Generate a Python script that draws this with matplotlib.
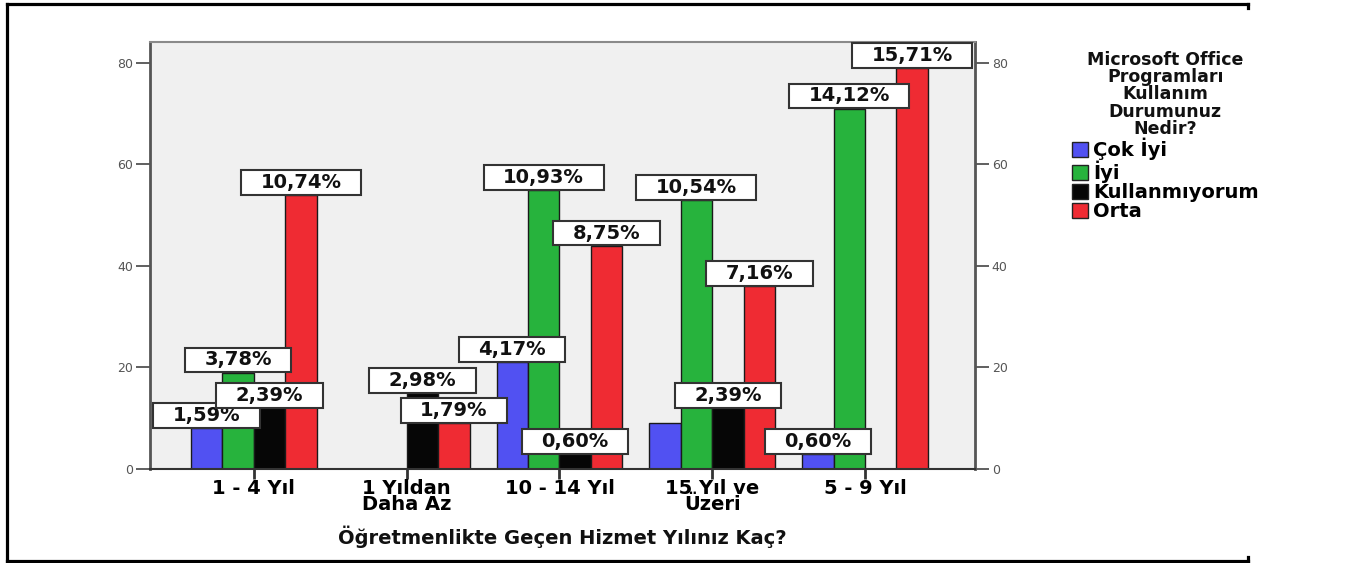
import matplotlib
matplotlib.use("Agg")
import matplotlib.pyplot as plt
from matplotlib.patches import Patch
from matplotlib.lines import Line2D
from matplotlib.path import Path

# ---------------- data ----------------
categories = ["1 - 4 Yıl", "1 Yıldan\nDaha Az", "10 - 14 Yıl", "15 Yıl ve\nÜzeri", "5 - 9 Yıl"]
series_names = ["Çok İyi", "İyi", "Kullanmıyorum", "Orta"]
cok_iyi = [8, 0, 21, 9, 3]
iyi = [19, 0, 55, 53, 71]
kullanmiyorum = [12, 15, 3, 12, 0]
orta = [54, 9, 44, 36, 79]
# which bars carry a percentage label in the original
shown_cok_iyi = [True, False, True, False, True]
shown_iyi = [True, False, True, True, True]
shown_kullanmiyorum = [True, True, True, True, False]
shown_orta = [True, True, True, True, True]
x_title = "Öğretmenlikte Geçen Hizmet Yılınız Kaç?"
legend_title = "Microsoft Office\nProgramları\nKullanım\nDurumunuz\nNedir?"
y_ticks = [0, 20, 40, 60, 80]

series = [cok_iyi, iyi, kullanmiyorum, orta]
shown = [shown_cok_iyi, shown_iyi, shown_kullanmiyorum, shown_orta]
colors = ["#5151F2", "#27B33D", "#060606", "#EF2B33"]
total = sum(sum(s) for s in series)

W, H = 1346, 563
fig = plt.figure(figsize=(W / 100, H / 100), dpi=100)
fig.patch.set_facecolor("white")

ax = fig.add_axes([150 / W, 1 - 469 / H, 825 / W, 427 / H])
ax.set_facecolor("#F0F0F0")
ax.set_xlim(-0.68, 4.72)
ax.set_ylim(0, 84.1)

bw = 0.206
xs = list(range(len(categories)))
for j, (vals, col) in enumerate(zip(series, colors)):
    pos = [x + (j - 1.5) * bw for x in xs]
    ax.bar(pos, vals, width=bw, color=col, edgecolor="#1a1a1a", linewidth=1.0, zorder=2)


def label_box(x0, y0, width, height, mutation_size):
    px = mutation_size * 1.0
    py = mutation_size * 0.15
    xa, xb = x0 - px, x0 + width + px
    ya, yb = y0 - py, y0 + height + py
    return Path([(xa, ya), (xb, ya), (xb, yb), (xa, yb), (xa, ya)], closed=True)


for j, vals in enumerate(series):
    for i, v in enumerate(vals):
        if v <= 0 or not shown[j][i]:
            continue
        txt = f"{v / total * 100:.2f}%".replace(".", ",")
        ax.annotate(txt, (i + (j - 1.5) * bw, v), xytext=(0, 2.2), textcoords="offset points",
                    ha="center", va="bottom", fontsize=14, fontweight="bold",
                    family="DejaVu Sans", color="#111111", zorder=5 + j,
                    bbox=dict(boxstyle=label_box, facecolor="white", edgecolor="#333333",
                              linewidth=1.5))

ax.set_xticks(xs)
ax.set_xticklabels(categories, fontsize=14, fontweight="bold", linespacing=0.85)
ax.set_yticks(y_ticks)
ax.set_yticklabels([str(t) for t in y_ticks])
ax.tick_params(axis="x", direction="out", length=7, width=2, color="#333333", pad=0)
ax.tick_params(axis="y", direction="out", length=10, width=1.2, color="#444444",
               labelsize=9, labelcolor="#555555", left=True, right=True,
               labelleft=True, labelright=True, pad=2)

for side in ["left", "right"]:
    ax.spines[side].set_color("#555555")
    ax.spines[side].set_linewidth(2)
ax.spines["bottom"].set_color("#333333")
ax.spines["bottom"].set_linewidth(1.5)
ax.spines["top"].set_color("#8a8a8a")
ax.spines["top"].set_linewidth(1.5)

fig.text(562 / W, 1 - 537 / H, x_title, ha="center", va="center",
         fontsize=14, fontweight="bold", color="#111111")

handles = [Patch(facecolor=c, edgecolor="#222222", linewidth=1) for c in colors]
leg = fig.legend(handles, series_names, loc="upper left",
                 bbox_to_anchor=(1062 / W, 1 - 41 / H), frameon=False,
                 title=legend_title, handlelength=0.85, handleheight=0.8,
                 handletextpad=0.25, labelspacing=0.0, borderpad=0,
                 prop=dict(size=14, weight="bold"),
                 title_fontproperties=dict(size=12.5, weight="bold"))
leg.get_title().set_linespacing(0.95)
leg.get_title().set_multialignment("center")
leg.get_title().set_color("#111111")

# outer frame lines
lw = 2.3
fig.add_artist(Line2D([7 / W, 1248 / W], [1 - 4 / H, 1 - 4 / H], color="black", lw=lw))
fig.add_artist(Line2D([7 / W, 7 / W], [1 - 4 / H, 1 - 561 / H], color="black", lw=lw))
fig.add_artist(Line2D([7 / W, 1248 / W], [1 - 561 / H, 1 - 561 / H], color="black", lw=lw))
fig.add_artist(Line2D([1248 / W, 1248 / W], [1 - 4 / H, 1 - 8 / H], color="black", lw=lw))
fig.add_artist(Line2D([1248 / W, 1248 / W], [1 - 561 / H, 1 - 557 / H], color="black", lw=lw))

fig.savefig("out.png", dpi=100)
